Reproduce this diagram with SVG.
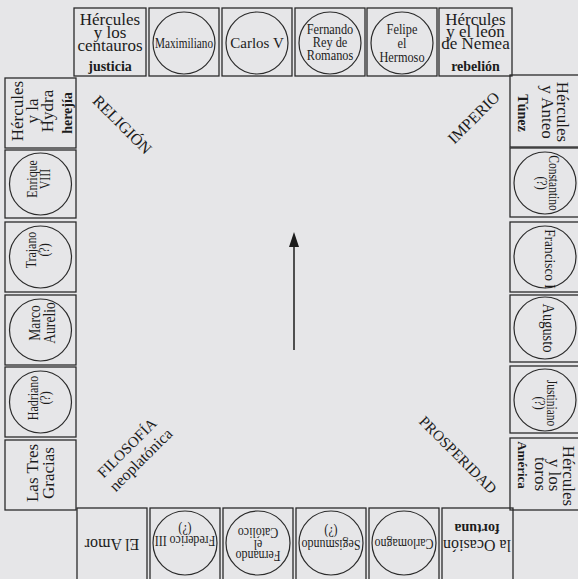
<svg xmlns="http://www.w3.org/2000/svg" width="578" height="579" viewBox="0 0 578 579">
<defs>
<style>
.b{fill:none;stroke:#2b2b2b;stroke-width:1.3}
.c{fill:none;stroke:#2b2b2b;stroke-width:1.2}
.t{font-family:"Liberation Serif",serif;font-size:17px;fill:#1c1c1c;text-anchor:middle}
.tb{font-weight:bold;font-size:14px}
.n{font-size:14px}
.d{font-size:16px}
.ln{stroke:#1c1c1c;stroke-width:1.5;fill:none}
</style>
<marker id="ah" markerWidth="15" markerHeight="10" refX="0" refY="5" orient="auto" markerUnits="userSpaceOnUse">
<path d="M0,0 L15,5 L0,10 z" fill="#1c1c1c"/>
</marker>
</defs>
<rect x="0" y="0" width="578" height="579" fill="#e6e6e8"/>

<!-- top row -->
<g id="n-centauros">
<rect class="b" x="74" y="8" width="72" height="68"/>
<text class="t" x="110" y="25">Hércules</text>
<text class="t" x="110" y="37.5">y los</text>
<text class="t" x="110" y="50.5">centauros</text>
<text class="t tb" x="110" y="71">justicia</text>
</g>
<g id="n-maximiliano">
<rect class="b" x="149" y="8" width="70" height="68"/>
<circle class="c" cx="184" cy="43" r="31"/>
<text class="t n" x="184" y="48" textLength="58" lengthAdjust="spacingAndGlyphs">Maximiliano</text>
</g>
<g id="n-carlosv">
<rect class="b" x="222" y="8" width="70" height="68"/>
<circle class="c" cx="257" cy="43" r="31"/>
<text class="t" x="257" y="48" style="font-size:15px">Carlos V</text>
</g>
<g id="n-fernando-rey">
<rect class="b" x="295" y="8" width="70" height="68"/>
<circle class="c" cx="330" cy="43" r="31"/>
<g transform="translate(330,0) scale(0.88,1)">
<text class="t n" x="0" y="34">Fernando</text>
<text class="t n" x="0" y="47">Rey de</text>
<text class="t n" x="0" y="60">Romanos</text>
</g>
</g>
<g id="n-felipe">
<rect class="b" x="367" y="8" width="70" height="68"/>
<circle class="c" cx="402" cy="43" r="31"/>
<g transform="translate(402,0) scale(0.88,1)">
<text class="t n" x="0" y="34">Felipe</text>
<text class="t n" x="0" y="48">el</text>
<text class="t n" x="0" y="62">Hermoso</text>
</g>
</g>
<g id="n-leon">
<rect class="b" x="439" y="8" width="73" height="68"/>
<text class="t" x="475.5" y="25">Hércules</text>
<text class="t" x="475.5" y="36.5">y el león</text>
<text class="t" x="475.5" y="48.5">de Nemea</text>
<text class="t tb" x="475.5" y="71">rebelión</text>
</g>

<!-- left column -->
<g id="n-hydra">
<rect class="b" x="5" y="78" width="71" height="70"/>
<text class="t" transform="translate(23,111) rotate(-90)">Hércules</text>
<text class="t" transform="translate(38,111) rotate(-90)">y la</text>
<text class="t" transform="translate(53,111) rotate(-90)">Hydra</text>
<text class="t tb" transform="translate(72,113) rotate(-90)">herejía</text>
</g>
<g id="n-enrique">
<rect class="b" x="5" y="150" width="71" height="68"/>
<circle class="c" cx="40.5" cy="184" r="31"/>
<text class="t n" transform="translate(37,179) rotate(-90) scale(0.85,1)">Enrique</text>
<text class="t n" transform="translate(50,179) rotate(-90) scale(0.85,1)">VIII</text>
</g>
<g id="n-trajano">
<rect class="b" x="5" y="222" width="71" height="70"/>
<circle class="c" cx="40.5" cy="257" r="31"/>
<text class="t n" transform="translate(36,250) rotate(-90) scale(0.85,1)">Trajano</text>
<text class="t n" transform="translate(49,250) rotate(-90) scale(0.85,1)">(?)</text>
</g>
<g id="n-marco">
<rect class="b" x="5" y="295" width="71" height="70"/>
<circle class="c" cx="40.5" cy="330" r="31"/>
<text class="t" transform="translate(40,323) rotate(-90) scale(0.85,1)" style="font-size:16px">Marco</text>
<text class="t" transform="translate(55,323) rotate(-90) scale(0.85,1)" style="font-size:16px">Aurelio</text>
</g>
<g id="n-hadriano">
<rect class="b" x="5" y="367" width="71" height="70"/>
<circle class="c" cx="40.5" cy="402" r="31"/>
<text class="t n" transform="translate(38,398) rotate(-90) scale(0.85,1)">Hadriano</text>
<text class="t n" transform="translate(50,398) rotate(-90) scale(0.85,1)">(?)</text>
</g>
<g id="n-gracias">
<rect class="b" x="5" y="440" width="71" height="70"/>
<text class="t" transform="translate(38,473) rotate(-90)">Las Tres</text>
<text class="t" transform="translate(54,473) rotate(-90)">Gracias</text>
</g>

<!-- right column -->
<g id="n-anteo">
<rect class="b" x="510" y="75" width="72" height="72"/>
<text class="t" transform="translate(557,112) rotate(90)">Hércules</text>
<text class="t" transform="translate(542,112) rotate(90)">y Anteo</text>
<text class="t tb" transform="translate(518,113) rotate(90)">Túnez</text>
</g>
<g id="n-constantino">
<rect class="b" x="510" y="148" width="72" height="69"/>
<circle class="c" cx="545" cy="183" r="31"/>
<text class="t n" transform="translate(549,183) rotate(90) scale(0.82,1)">Constantino</text>
<text class="t n" transform="translate(537,183) rotate(90) scale(0.85,1)">(?)</text>
</g>
<g id="n-francisco">
<rect class="b" x="510" y="222" width="72" height="70"/>
<circle class="c" cx="545" cy="257" r="31"/>
<text class="t n" transform="translate(545,259) rotate(90) scale(0.95,1)">Francisco I</text>
</g>
<g id="n-augusto">
<rect class="b" x="510" y="295" width="72" height="67"/>
<circle class="c" cx="545" cy="328" r="31"/>
<text class="t" transform="translate(543,328) rotate(90) scale(0.9,1)" style="font-size:16px">Augusto</text>
</g>
<g id="n-justiniano">
<rect class="b" x="510" y="366" width="72" height="67"/>
<circle class="c" cx="545" cy="400" r="31"/>
<text class="t n" transform="translate(547,403) rotate(90) scale(0.82,1)">Justiniano</text>
<text class="t n" transform="translate(535,403) rotate(90) scale(0.85,1)">(?)</text>
</g>
<g id="n-toros">
<rect class="b" x="510" y="438" width="72" height="72"/>
<text class="t" transform="translate(563,476) rotate(90)">Hércules</text>
<text class="t" transform="translate(549,475) rotate(90)">y los</text>
<text class="t" transform="translate(535,474) rotate(90)">toros</text>
<text class="t tb" transform="translate(518,465) rotate(90)" style="font-size:13px">América</text>
</g>

<!-- bottom row -->
<g id="n-amor">
<rect class="b" x="77" y="508" width="70" height="76"/>
<text class="t" transform="translate(112,539) rotate(180)" style="font-size:16px">El Amor</text>
</g>
<g id="n-frederico">
<rect class="b" x="150" y="508" width="70" height="76"/>
<circle class="c" cx="185" cy="543" r="32"/>
<text class="t n" transform="translate(185,536) rotate(180) scale(0.85,1)">Frederico III</text>
<text class="t n" transform="translate(185,525) rotate(180) scale(0.85,1)">(?)</text>
</g>
<g id="n-fernando-catolico">
<rect class="b" x="223" y="508" width="70" height="76"/>
<circle class="c" cx="258" cy="543" r="32"/>
<text class="t n" transform="translate(258,551) rotate(180) scale(0.85,1)">Fernando</text>
<text class="t n" transform="translate(258,540) rotate(180) scale(0.85,1)">el</text>
<text class="t n" transform="translate(258,528) rotate(180) scale(0.85,1)">Católico</text>
</g>
<g id="n-segismundo">
<rect class="b" x="296" y="508" width="70" height="76"/>
<circle class="c" cx="331" cy="543" r="32"/>
<text class="t n" transform="translate(331,540) rotate(180) scale(0.85,1)">Segismundo</text>
<text class="t n" transform="translate(331,527) rotate(180) scale(0.85,1)">(?)</text>
</g>
<g id="n-carlomagno">
<rect class="b" x="369" y="508" width="70" height="76"/>
<circle class="c" cx="404" cy="543" r="32"/>
<text class="t n" transform="translate(404,539) rotate(180) scale(0.85,1)">Carlomagno</text>
</g>
<g id="n-ocasion">
<rect class="b" x="442" y="508" width="71" height="76"/>
<text class="t" transform="translate(477,540) rotate(180)" style="font-size:16px">la Ocasión</text>
<text class="t tb" transform="translate(477,524) rotate(180)">fortuna</text>
</g>

<!-- diagonal labels -->
<g id="labels">
<text class="t d" transform="translate(122,125) rotate(45)" y="5">RELIGIÓN</text>
<text class="t d" transform="translate(474,118) rotate(-45)" y="5">IMPERIO</text>
<text class="t" style="font-size:15px" transform="translate(458,455) rotate(45)" y="5">PROSPERIDAD</text>
<text class="t" style="font-size:15px" transform="translate(127,448) rotate(-45)" y="5">FILOSOFÍA</text>
<text class="t d" transform="translate(141,460) rotate(-45)" y="5">neoplatónica</text>
</g>

<g id="connectors">
<line class="ln" x1="294" y1="350" x2="294" y2="247" marker-end="url(#ah)"/>
</g>
</svg>
